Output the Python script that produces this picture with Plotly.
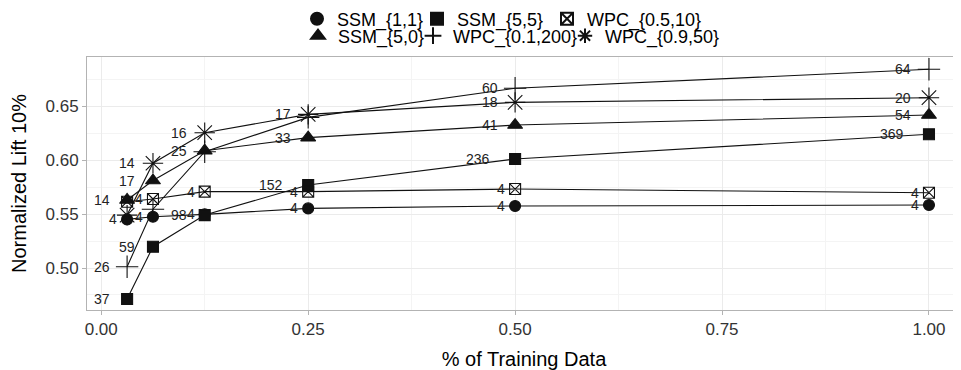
import plotly.graph_objects as go

# ---- data ----
x_frac = [0.03125, 0.0625, 0.125, 0.25, 0.5, 1.0]

ssm_1_1 = [0.545, 0.5475, 0.5497, 0.5552, 0.5574, 0.5583]
ssm_1_1_lbl = ["4", "4", "4", "4", "4", "4"]

ssm_5_0 = [0.563, 0.581, 0.6086, 0.6207, 0.6324, 0.6417]
ssm_5_0_lbl = ["14", "17", "25", "33", "41", "54"]

ssm_5_5 = [0.4713, 0.5197, 0.549, 0.5769, 0.6009, 0.6238]
ssm_5_5_lbl = ["37", "59", "98", "152", "236", "369"]

wpc_01_200 = [0.5012, 0.5544, 0.6077, 0.6395, 0.6664, 0.684]
wpc_01_200_lbl = ["26", "", "", "", "60", "64"]

wpc_05_10 = [0.5614, 0.5639, 0.5707, 0.5707, 0.5731, 0.5697]
wpc_05_10_lbl = ["", "4", "4", "4", "4", "4"]

wpc_09_50 = [0.549, 0.597, 0.6253, 0.6423, 0.6534, 0.6577]
wpc_09_50_lbl = ["", "14", "16", "17", "18", "20"]

x_ticks = [0.0, 0.25, 0.5, 0.75, 1.0]
x_tick_text = ["0.00", "0.25", "0.50", "0.75", "1.00"]
y_ticks = [0.50, 0.55, 0.60, 0.65]
y_tick_text = ["0.50", "0.55", "0.60", "0.65"]

# ---- styling ----
FONT = "Liberation Sans"
BODY = 8                      # default page margin of the html body
W, H = 961 - BODY, 370 - BODY
ML, MR, MT, MB = 87 - BODY, 0, 57 - BODY, 60
PW, PH = W - ML - MR, H - MT - MB

# name, values, labels, symbol, size, legend id, legend key centre x, legend row centre y (page px)
series = [
    ("SSM_{1,1}", ssm_1_1, ssm_1_1_lbl, "circle", 11, "legend", 317, 19),
    ("SSM_{5,0}", ssm_5_0, ssm_5_0_lbl, "triangle-up", 13, "legend2", 318, 36),
    ("SSM_{5,5}", ssm_5_5, ssm_5_5_lbl, "square", 11, "legend3", 437, 19),
    ("WPC_{0.1,200}", wpc_01_200, wpc_01_200_lbl, "cross-thin-open", 16, "legend4", 433, 36),
    ("WPC_{0.5,10}", wpc_05_10, wpc_05_10_lbl, "square-x-open", 11, "legend5", 567, 19),
    ("WPC_{0.9,50}", wpc_09_50, wpc_09_50_lbl, "asterisk-open", 17, "legend6", 585, 36),
]

fig = go.Figure()

# lines first (line layer sits under the points layer)
for name, vals, lbls, sym, size, lg, kx, ky in series:
    fig.add_trace(go.Scatter(x=x_frac, y=vals, mode="lines",
                             line=dict(color="#111111", width=1.1),
                             showlegend=False, hoverinfo="skip"))

legend_layouts = {}
for name, vals, lbls, sym, size, lg, kx, ky in series:
    fig.add_trace(go.Scatter(
        x=x_frac, y=vals, mode="markers", name=name, legend=lg,
        marker=dict(symbol=sym, size=size, color="#111111",
                    line=dict(color="#111111", width=1.1)),
    ))
    legend_layouts[lg] = dict(
        orientation="h",
        x=(kx - BODY - 20 - ML) / PW,
        y=(H - MB - (ky - BODY)) / PH,
        xanchor="left", yanchor="middle", itemsizing="constant",
        font=dict(family=FONT, size=18, color="black"),
        bgcolor="rgba(0,0,0,0)", borderwidth=0, itemclick=False,
    )

# data labels (hjust = 2 : right edge one text-width left of the point)
CHAR_W = 7.8
for name, vals, lbls, sym, size, lg, kx, ky in series:
    for xv, yv, t in zip(x_frac, vals, lbls):
        if not t:
            continue
        fig.add_annotation(x=xv, y=yv, text=t, showarrow=False,
                           xanchor="right", yanchor="middle",
                           xshift=-CHAR_W * len(t),
                           font=dict(family=FONT, size=14, color="#222222"))

grid_major = "#EBEBEB"
grid_minor = "#F4F4F4"
border = "#B3B3B3"

fig.update_layout(
    width=W, height=H,
    margin=dict(l=ML, r=MR, t=MT, b=MB, autoexpand=False),
    paper_bgcolor="white", plot_bgcolor="white",
    font=dict(family=FONT, color="black"),
    xaxis=dict(range=[-0.0172, 1.0387], tickvals=x_ticks, ticktext=x_tick_text,
               showgrid=True, gridcolor=grid_major, gridwidth=1,
               minor=dict(tickvals=[0.125, 0.375, 0.625, 0.875], showgrid=True,
                          gridcolor=grid_minor, gridwidth=1, ticks=""),
               ticks="outside", ticklen=4, tickcolor=border,
               tickfont=dict(family=FONT, size=17, color="#333333"),
               showline=True, linecolor=border, linewidth=1, mirror=True,
               zeroline=False, automargin=False,
               title=dict(text="% of Training Data", font=dict(family=FONT, size=20, color="black"),
                          standoff=14)),
    yaxis=dict(range=[0.4611, 0.6954], tickvals=y_ticks, ticktext=y_tick_text,
               showgrid=True, gridcolor=grid_major, gridwidth=1,
               minor=dict(tickvals=[0.475, 0.525, 0.575, 0.625, 0.675], showgrid=True,
                          gridcolor=grid_minor, gridwidth=1, ticks=""),
               ticks="outside", ticklen=4, tickcolor=border,
               tickfont=dict(family=FONT, size=17, color="#333333"),
               showline=True, linecolor=border, linewidth=1, mirror=False,
               zeroline=False, automargin=False,
               title=dict(text="Normalized Lift 10%", font=dict(family=FONT, size=20, color="black"),
                          standoff=15)),
    **legend_layouts,
)

fig.write_html("out.html")
